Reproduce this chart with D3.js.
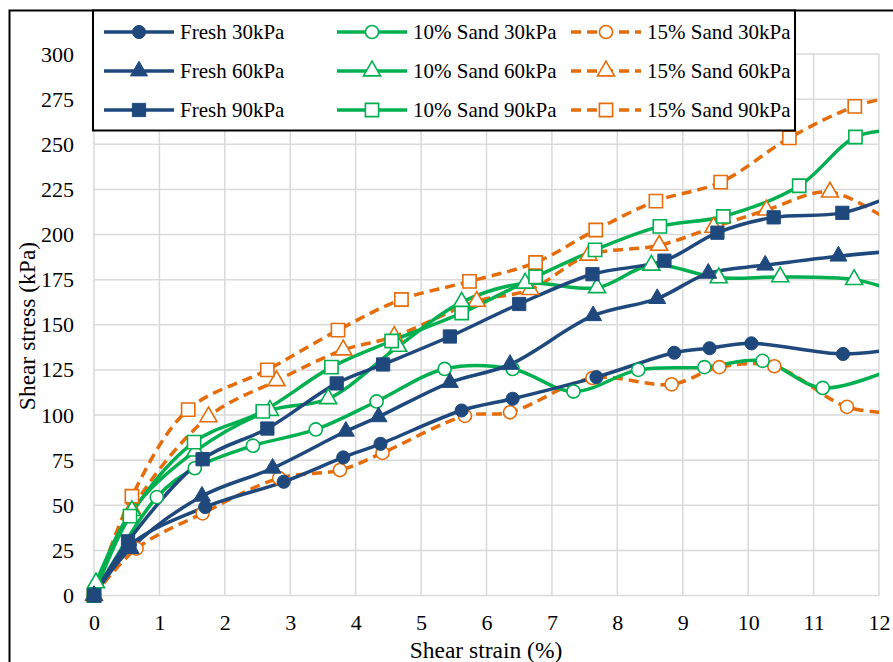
<!DOCTYPE html>
<html>
<head>
<meta charset="utf-8">
<script src="https://cdn.jsdelivr.net/npm/d3@7"></script>
<style>
  body { margin: 0; background: #fff; }
  svg text { font-family: "Liberation Serif", "Times New Roman", Tinos, "DejaVu Serif", serif; fill: #000; }
</style>
</head>
<body>
<div id="chart"></div>
<script>
// ---------- data ([strain %, stress kPa]) ----------
const fresh30 = [[0,0],[0.55,28],[1.70,49],[2.90,63],[3.81,76.5],[4.38,84],[5.62,102.5],[6.40,109],[7.68,121],[8.87,134.5],[9.41,137],[10.05,139.7],[11.45,133.8],[12.3,137]];
const fresh60 = [[0,0],[0.56,26],[1.65,55],[2.73,70.5],[3.85,91],[4.35,99],[5.44,118],[6.36,128],[7.63,155],[8.61,164.5],[9.39,178.5],[10.26,183],[11.38,188],[12.3,191]];
const fresh90 = [[0,0],[0.52,30],[1.66,75.5],[2.65,92.5],[3.71,117.5],[4.42,128],[5.44,143.5],[6.50,161.5],[7.62,178],[8.72,185.5],[9.53,201],[10.39,209.5],[11.44,212],[12.3,223]];
const sand10_30 = [[0,0],[0.96,54.5],[1.54,70.5],[2.43,83],[3.39,92],[4.32,107.5],[5.36,125.5],[6.40,125.5],[7.33,113],[8.32,125],[9.33,126.5],[10.22,130],[11.14,115],[12.3,127]];
const sand10_60 = [[0.03,7],[0.58,47],[1.55,80],[2.69,102.5],[3.58,109],[4.65,138],[5.62,162.5],[6.59,173],[7.69,170.5],[8.52,183],[9.55,176],[10.49,176.5],[11.62,175],[12.3,168]];
const sand10_90 = [[0,0],[0.55,44],[1.53,85],[2.58,102],[3.63,126.5],[4.55,141],[5.62,156.5],[6.75,176.5],[7.66,191.5],[8.65,204.5],[9.62,210],[10.78,227],[11.64,254],[12.3,258]];
const sand15_30 = [[0,0],[0.65,26],[1.66,45.5],[2.83,65],[3.76,69.5],[4.41,79],[5.67,99.5],[6.36,101.5],[7.62,120.5],[8.83,117],[9.56,126.5],[10.40,127],[11.51,104.5],[12.3,101]];
const sand15_60 = [[0,0],[0.58,48],[1.75,99],[2.79,119],[3.81,136],[4.59,143.5],[5.85,163],[6.67,169.5],[7.56,188.5],[8.64,194],[9.47,204],[10.28,213.5],[11.25,223.5],[12.3,204]];
const sand15_90 = [[0,0],[0.58,55],[1.44,103],[2.65,125],[3.73,147],[4.70,164],[5.74,174],[6.75,184.5],[7.67,202.5],[8.59,218.5],[9.58,229],[10.63,253.5],[11.63,271],[12.3,277]];

const seriesNames = ["Fresh 30kPa","Fresh 60kPa","Fresh 90kPa","10% Sand 30kPa","10% Sand 60kPa","10% Sand 90kPa","15% Sand 30kPa","15% Sand 60kPa","15% Sand 90kPa"];
const seriesData = [fresh30, fresh60, fresh90, sand10_30, sand10_60, sand10_90, sand15_30, sand15_60, sand15_90];
const xTicks = [0,1,2,3,4,5,6,7,8,9,10,11,12];
const yTicks = [0,25,50,75,100,125,150,175,200,225,250,275,300];

// ---------- styles ----------
const serif = "'Liberation Serif', 'Times New Roman', Tinos, 'DejaVu Serif', serif";
const navy = "#1f497d", green = "#00b050", orange = "#e46c0a";
const seriesColor = i => [navy, green, orange][Math.floor(i / 3)];
const seriesShape = i => [d3.symbolCircle, d3.symbolTriangle, d3.symbolSquare][i % 3];
const shapeSize = i => [135, 125, 175][i % 3];
const isHollow = i => i >= 3;
const isDashed = i => i >= 6;

const dims = { width: 893, height: 662, left: 94, right: 879, top: 54, bottom: 595.5 };

const svg = d3.select("#chart").append("svg")
    .attr("width", dims.width)
    .attr("height", dims.height)
    .attr("font-family", serif);

// outer frame
svg.append("rect")
    .attr("x", 9.5).attr("y", 10.5)
    .attr("width", 920).attr("height", 700)
    .attr("fill", "#fff").attr("stroke", "#000").attr("stroke-width", 2);

const xScale = d3.scaleLinear().domain([0, 12]).range([dims.left, dims.right]);
const yScale = d3.scaleLinear().domain([0, 300]).range([dims.bottom, dims.top]);

// ---------- grid ----------
const grid = svg.append("g");
grid.selectAll(".vg").data(xTicks).join("line")
    .attr("x1", d => xScale(d)).attr("x2", d => xScale(d))
    .attr("y1", yScale(300)).attr("y2", yScale(0))
    .attr("stroke", "#d9d9d9").attr("stroke-width", 1.5);
grid.selectAll(".hg").data(yTicks).join("line")
    .attr("x1", xScale(0)).attr("x2", xScale(12))
    .attr("y1", d => yScale(d)).attr("y2", d => yScale(d))
    .attr("stroke", "#d9d9d9").attr("stroke-width", 1.5);

// ---------- axes ----------
const xAxis = svg.append("g")
    .attr("transform", `translate(0,${dims.bottom + 19})`)
    .call(d3.axisBottom(xScale).tickValues(xTicks).tickSize(0).tickPadding(0));
const yAxis = svg.append("g")
    .attr("transform", `translate(${dims.left - 20},0)`)
    .call(d3.axisLeft(yScale).tickValues(yTicks).tickSize(0).tickPadding(0));
[xAxis, yAxis].forEach(a => {
    a.attr("font-family", serif);
    a.select(".domain").remove();
    a.selectAll("text").attr("font-size", 22);
});

svg.append("text")
    .attr("x", 486).attr("y", 658)
    .attr("text-anchor", "middle").attr("font-size", 23.5)
    .text("Shear strain (%)");
svg.append("text")
    .attr("transform", "translate(35,326) rotate(-90)")
    .attr("text-anchor", "middle").attr("font-size", 23.5)
    .text("Shear stress (kPa)");

// ---------- series ----------
svg.append("clipPath").attr("id", "plotClip")
  .append("rect")
    .attr("x", dims.left - 10).attr("y", 0)
    .attr("width", dims.right - dims.left + 10).attr("height", dims.bottom + 12);

const plot = svg.append("g").attr("clip-path", "url(#plotClip)");

const lineGen = d3.line()
    .x(d => xScale(d[0]))
    .y(d => yScale(d[1]))
    .curve(d3.curveCatmullRom.alpha(0.5));

const drawOrder = [6, 7, 8, 3, 4, 5, 0, 1, 2];
drawOrder.forEach(i => {
    plot.append("path")
        .datum(seriesData[i])
        .attr("d", lineGen)
        .attr("fill", "none")
        .attr("stroke", seriesColor(i))
        .attr("stroke-width", 3.5)
        .attr("stroke-dasharray", isDashed(i) ? "10,6" : null);
});
drawOrder.forEach(i => {
    plot.selectAll(null)
        .data(seriesData[i])
        .join("path")
        .attr("transform", d => `translate(${xScale(d[0])},${yScale(d[1])})`)
        .attr("d", d3.symbol().type(seriesShape(i)).size(shapeSize(i)))
        .attr("fill", isHollow(i) ? "#fff" : seriesColor(i))
        .attr("stroke", seriesColor(i))
        .attr("stroke-width", isHollow(i) ? 1.6 : 1);
});

// ---------- legend ----------
const legend = svg.append("g");
legend.append("rect")
    .attr("x", 93).attr("y", 10.5)
    .attr("width", 702).attr("height", 120)
    .attr("fill", "#fff").attr("stroke", "#000").attr("stroke-width", 2);

const legendCols = [104, 337, 571];
const legendRows = [32, 71, 110];
seriesNames.forEach((name, i) => {
    const lx = legendCols[Math.floor(i / 3)];
    const ly = legendRows[i % 3];
    const g = legend.append("g");
    g.append("line")
        .attr("x1", lx).attr("x2", lx + 70)
        .attr("y1", ly).attr("y2", ly)
        .attr("stroke", seriesColor(i)).attr("stroke-width", 3.5)
        .attr("stroke-dasharray", isDashed(i) ? "10,6" : null);
    g.append("path")
        .attr("transform", `translate(${lx + 35},${ly})`)
        .attr("d", d3.symbol().type(seriesShape(i)).size(shapeSize(i)))
        .attr("fill", isHollow(i) ? "#fff" : seriesColor(i))
        .attr("stroke", seriesColor(i))
        .attr("stroke-width", isHollow(i) ? 1.6 : 1);
    g.append("text")
        .attr("x", lx + 76).attr("y", ly + 7)
        .attr("font-size", 21)
        .text(name);
});
</script>
</body>
</html>
